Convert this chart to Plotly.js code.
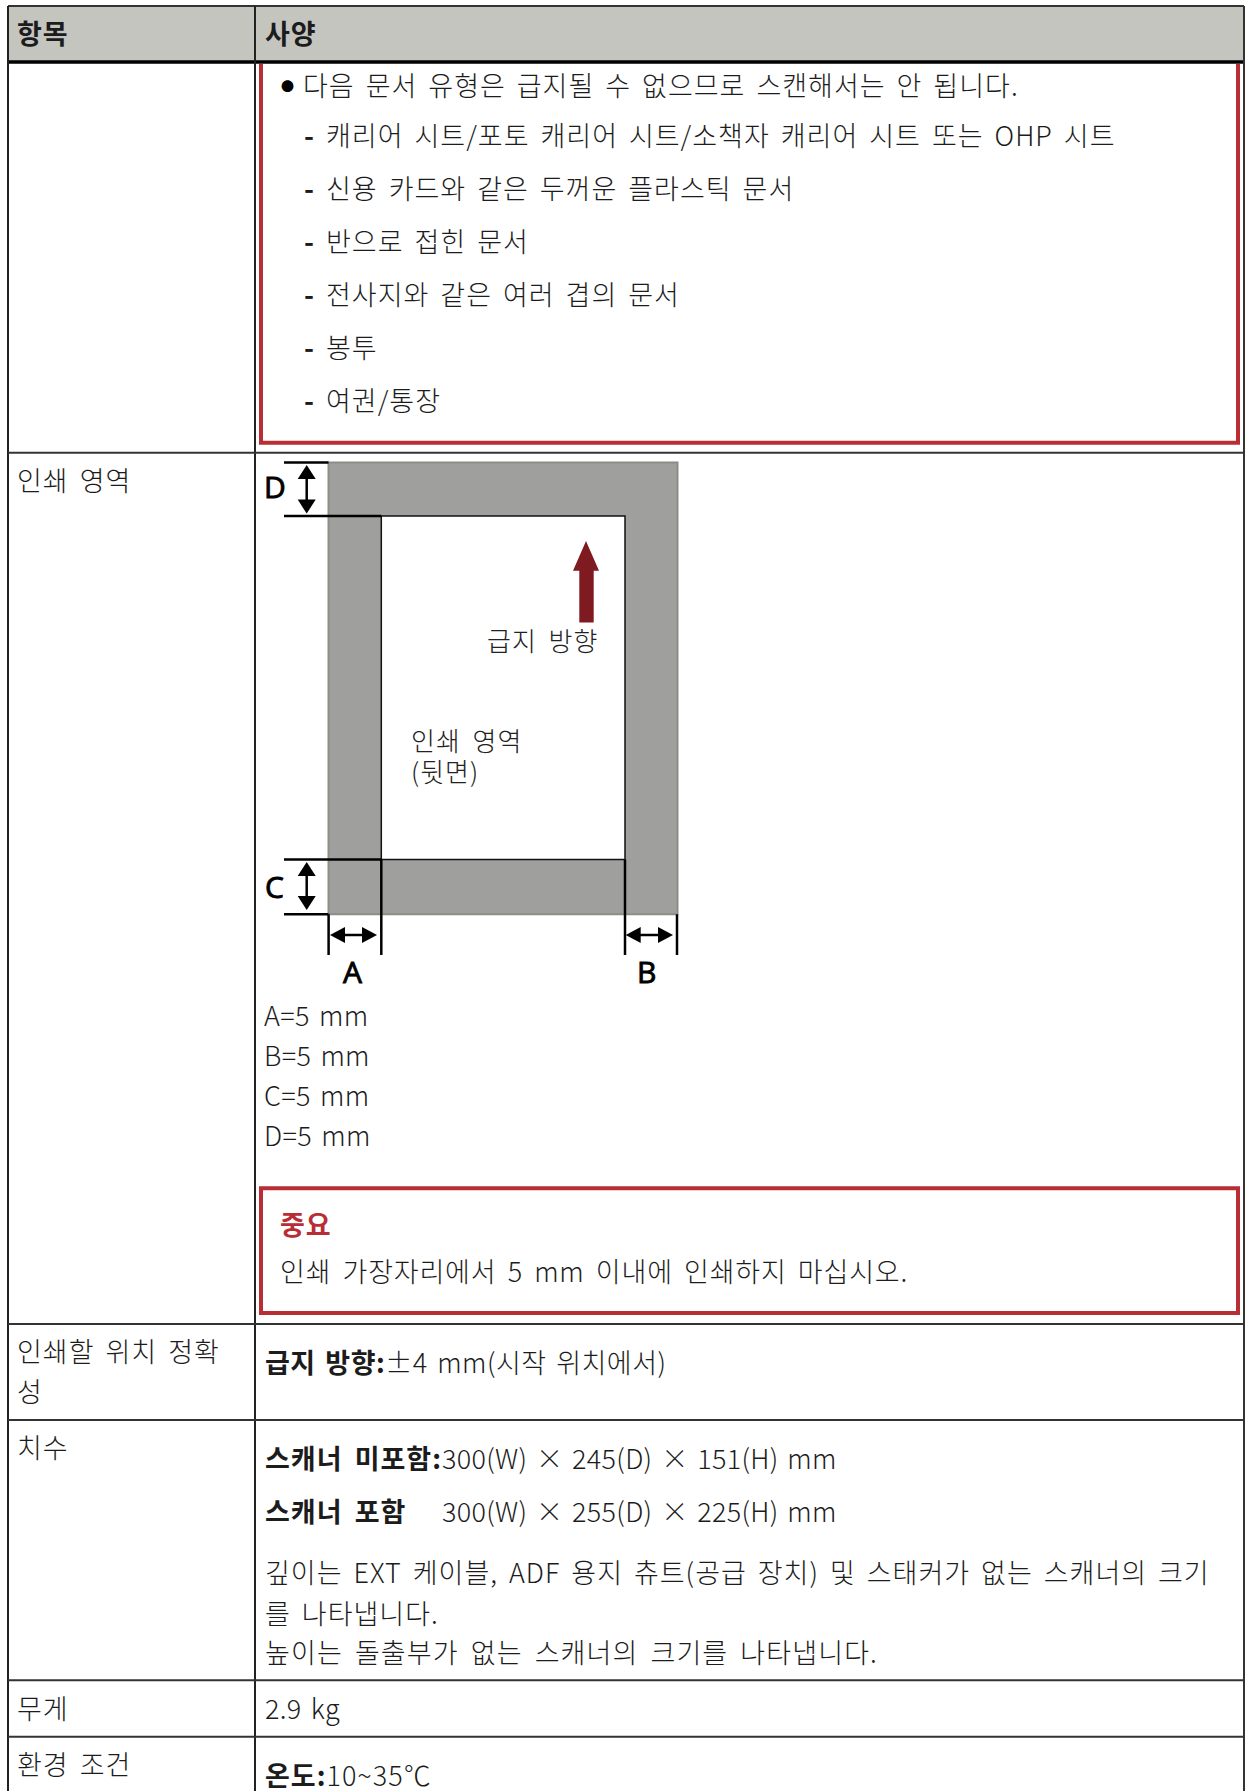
<!DOCTYPE html>
<html><head><meta charset="utf-8">
<script src="https://cdn.plot.ly/plotly-3.0.1.min.js"></script>
<style>html,body{margin:0;padding:0;background:#fff}#c{width:1245px;height:1791px}</style>
</head><body><div id="c"></div>
<script>
const headerLabels=['항목','사양'];
const notFedIntro='다음 문서 유형은 급지될 수 없으므로 스캔해서는 안 됩니다.';
const notFedItems=['캐리어 시트/포토 캐리어 시트/소책자 캐리어 시트 또는 OHP 시트','신용 카드와 같은 두꺼운 플라스틱 문서','반으로 접힌 문서','전사지와 같은 여러 겹의 문서','봉투','여권/통장'];
const rowLabels=['인쇄 영역','인쇄할 위치 정확','성','치수','무게','환경 조건'];
const marginValues=['A=5 mm','B=5 mm','C=5 mm','D=5 mm'];
const marginLetters=['A','B','C','D'];
const diagramLabels=['급지 방향','인쇄 영역','(뒷면)'];
const noticeTitle='중요';
const noticeText='인쇄 가장자리에서 5 mm 이내에 인쇄하지 마십시오.';
const accuracyText='<b>급지 방향:</b>±4 mm(시작 위치에서)';
const sizeBold=['스캐너 미포함:','스캐너 포함'];
const sizeValues=['300(W) × 245(D) × 151(H) mm','300(W) × 255(D) × 225(H) mm'];
const sizeNotes=['깊이는 EXT 케이블, ADF 용지 츄트(공급 장치) 및 스태커가 없는 스캐너의 크기','를 나타냅니다.','높이는 돌출부가 없는 스캐너의 크기를 나타냅니다.'];
const weightText='2.9 kg';
const tempText='<b>온도:</b>10~35℃';

const FONT='"Noto Sans CJK KR","Noto Sans",sans-serif', DIA='"Open Sans","Noto Sans CJK KR",sans-serif';
const INK='#1c1c1c', RED='#b92d35', BODY=27;
const ann=[], shp=[], spacing=[];
function T(text,x,y,o={}){const left=!o.a;
  ann.push({text,x:left?x-1.5:x,y:y-1.5,xref:'x',yref:'y',xanchor:o.a||'left',yanchor:'middle',align:'left',showarrow:false,borderpad:0,
  font:{family:o.f||FONT,size:o.s||BODY,color:o.c||INK,weight:o.w||300}});
  spacing.push([o.ls===undefined?1:o.ls,o.ws===undefined?4:o.ws,o.stroke||0]);}
function R(x0,y0,x1,y1,fill,lc,lw){shp.push({type:'rect',xref:'x',yref:'y',x0,y0,x1,y1,fillcolor:fill||'rgba(0,0,0,0)',line:{color:lc||'rgba(0,0,0,0)',width:lw||0}});}
function L(x0,y0,x1,y1,c,w){shp.push({type:'line',xref:'x',yref:'y',x0,y0,x1,y1,line:{color:c||'#111',width:w||2}});}
function P(d,fill){shp.push({type:'path',xref:'x',yref:'y',path:d,fillcolor:fill||'#000',line:{width:0}});}

// table
R(8,6,1244,62,'#c4c5bf');
L(8,6,1244,6,'#333',2); L(8,62,1244,62,'#000',3.5);
L(8,6,8,1791,'#222',2); L(255,6,255,1791,'#222',2); L(1244,6,1244,1791,'#333',2);
[452.7,1324,1420,1680.3,1736.7].forEach(y=>L(8,y,1244,y,'#333',2));

// red boxes
L(261,64,261,442.7,RED,4); L(1238,64,1238,442.7,RED,4); L(259,442.7,1240,442.7,RED,4);
R(261,1188.3,1238,1313,'rgba(0,0,0,0)',RED,4);

// diagram
R(328.5,462.5,677.5,914.3,'#9fa09e','#8c8d84',2);
R(381.3,516,625,859.6,'#ffffff','#111',1.5);
L(284,462.5,328.5,462.5,'#000',2.5); L(284,516,381.3,516,'#000',2.5);
L(284,859.6,381.3,859.6,'#000',2.5); L(284,914.3,328.5,914.3,'#000',2.5);
[[328.6,914.3],[381.3,859.6],[625,859.6],[677,914.3]].forEach(([x,y])=>L(x,y,x,955,'#000',2.5));
function vArrow(x,y0,y1){L(x,y0+8,x,y1-8,'#000',2.5);
  P(`M${x},${y0}L${x+9},${y0+14}L${x-9},${y0+14}Z`);P(`M${x},${y1}L${x+9},${y1-14}L${x-9},${y1-14}Z`);}
function hArrow(y,x0,x1){L(x0+8,y,x1-8,y,'#000',2.5);
  P(`M${x0},${y}L${x0+15},${y-8}L${x0+15},${y+8}Z`);P(`M${x1},${y}L${x1-15},${y-8}L${x1-15},${y+8}Z`);}
vArrow(306.7,465,513.6); vArrow(306.7,862,910); hArrow(935,330,377); hArrow(935,625.7,673);
P('M586,541L599,570.7L593.7,570.7L593.7,622.5L579.3,622.5L579.3,570.7L573,570.7Z','#7f1a20');

// text
T(headerLabels[0],17,34,{w:700}); T(headerLabels[1],265,34,{w:700});
T('●',281,87,{s:13,c:'#000'}); T(notFedIntro,303,86);
const itemY=[136,189,242,295,348,401];
notFedItems.forEach((t,i)=>{T('-',304,itemY[i],{w:700});T(t,326,itemY[i]);});
T(rowLabels[0],17,481);
T(diagramLabels[0],487,641,{s:26,c:'#222',ws:5});
T(diagramLabels[1],411,741,{s:26,c:'#222',ws:5});
T(diagramLabels[2],411,772,{s:26,c:'#222',ws:5});
const LET={f:DIA,s:30,w:500,a:'center',c:'#000',ls:0,ws:0,stroke:.9};
T(marginLetters[0],352,973,LET); T(marginLetters[1],646.5,973,LET);
T(marginLetters[2],274,888,LET); T(marginLetters[3],274.5,488,LET);
marginValues.forEach((t,i)=>T(t,264,[1015.5,1055.5,1095.5,1135.5][i],{ls:.3,ws:3}));
T(noticeTitle,280,1225,{c:RED,w:700}); T(noticeText,280,1271.7,{ls:.8,ws:4.5});
T(rowLabels[1],17,1351.7); T(rowLabels[2],17,1391.7); T(accuracyText,265,1363.3,{ls:.5,ws:3});
T(rowLabels[3],17,1448);
T(sizeBold[0],265,1459.3,{w:700,ws:5}); T(sizeValues[0],442,1459.3,{ls:.3,ws:2.5});
T(sizeBold[1],265,1511.7,{w:700,ws:5}); T(sizeValues[1],442,1511.7,{ls:.3,ws:2.5});
T(sizeNotes[0],265,1572.7); T(sizeNotes[1],265,1614); T(sizeNotes[2],265,1653,{ls:1.1,ws:5});
T(rowLabels[4],17,1709); T(weightText,265,1709,{ls:.3,ws:3});
T(rowLabels[5],17,1765); T(tempText,265,1776,{ws:0});

Plotly.newPlot('c',[],{width:1245,height:1791,margin:{l:0,r:0,t:0,b:0},paper_bgcolor:'#fff',plot_bgcolor:'#fff',showlegend:false,
  xaxis:{range:[0,1245],visible:false,fixedrange:true},yaxis:{range:[1791,0],visible:false,fixedrange:true},
  shapes:shp,annotations:ann},{displayModeBar:false,staticPlot:true}).then(()=>{
    document.querySelectorAll('.annotation').forEach(g=>{const s=spacing[+g.getAttribute('data-index')];const t=g.querySelector('text');
      if(s&&t){t.style.letterSpacing=s[0]+'px';t.style.wordSpacing=s[1]+'px';if(s[2]){t.style.stroke='#000';t.style.strokeWidth=s[2]+'px';}}});
  });
</script></body></html>
